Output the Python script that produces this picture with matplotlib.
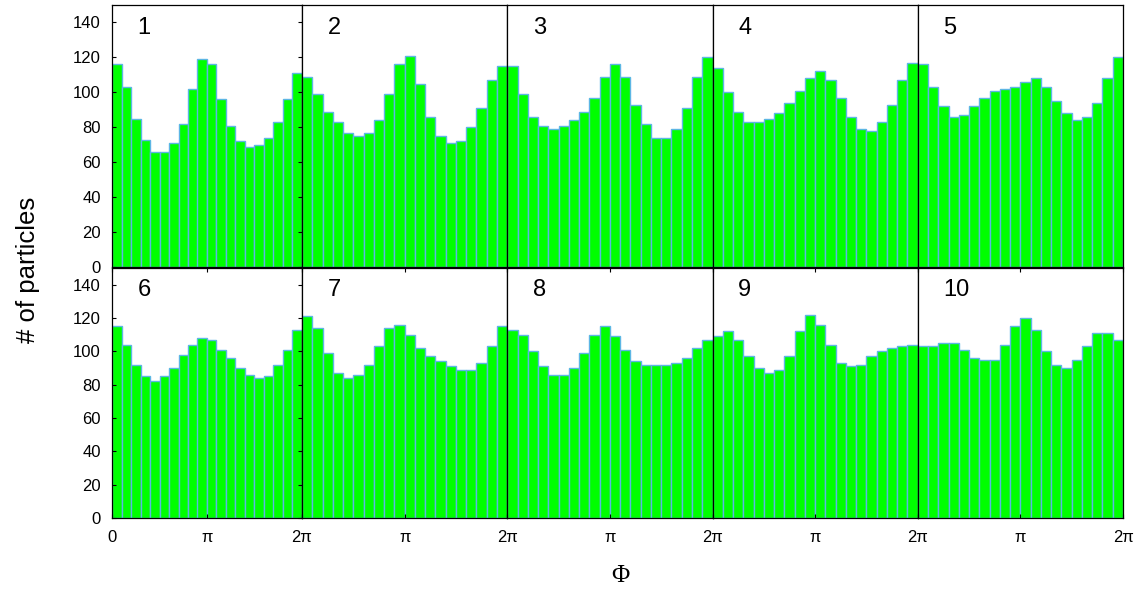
'''Azimuthal particle distributions for ten event classes, drawn as a 2x5 panel grid.'''

import numpy as np
import matplotlib
matplotlib.use('Agg')
import matplotlib.pyplot as plt

# Particle counts per azimuthal bin (20 bins over 0..2pi), one list per panel
counts_1 = [116, 103, 85, 73, 66, 66, 71, 82, 102, 119, 116, 96, 81, 72, 69, 70, 74, 83, 96, 111]
counts_2 = [109, 99, 89, 83, 77, 75, 77, 84, 99, 116, 121, 105, 86, 75, 71, 72, 80, 91, 107, 115]
counts_3 = [115, 99, 86, 81, 79, 81, 84, 89, 97, 109, 116, 109, 93, 82, 74, 74, 79, 91, 109, 120]
counts_4 = [114, 100, 89, 83, 83, 85, 88, 94, 101, 108, 112, 107, 97, 86, 79, 78, 83, 93, 107, 117]
counts_5 = [116, 103, 92, 86, 87, 92, 97, 101, 102, 103, 106, 108, 103, 95, 88, 84, 86, 94, 108, 120]
counts_6 = [115, 104, 92, 85, 82, 85, 90, 98, 104, 108, 107, 101, 96, 90, 86, 84, 85, 92, 101, 113]
counts_7 = [121, 114, 99, 87, 84, 86, 92, 103, 114, 116, 110, 102, 97, 94, 91, 89, 89, 93, 103, 115]
counts_8 = [113, 110, 100, 91, 86, 86, 90, 99, 110, 115, 109, 101, 94, 92, 92, 92, 93, 96, 102, 107]
counts_9 = [109, 112, 107, 97, 90, 87, 89, 97, 112, 122, 116, 104, 93, 91, 92, 97, 100, 102, 103, 104]
counts_10 = [103, 103, 105, 105, 101, 96, 95, 95, 104, 115, 120, 113, 100, 92, 90, 95, 103, 111, 111, 107]

panel_counts = [counts_1, counts_2, counts_3, counts_4, counts_5,
                counts_6, counts_7, counts_8, counts_9, counts_10]
panel_names = ['1', '2', '3', '4', '5', '6', '7', '8', '9', '10']

y_ticks = [0, 20, 40, 60, 80, 100, 120, 140]
x_ticks = [0, np.pi, 2 * np.pi]

plt.rcParams['font.family'] = ['Liberation Sans', 'DejaVu Sans']

W, H = 1137, 592
fig = plt.figure(figsize=(W / 100, H / 100), dpi=100)

n_bins = 20
edges = np.linspace(0, 2 * np.pi, n_bins + 1)
bin_w = edges[1] - edges[0]

# panel frames in pixels: first column is narrower
col_left = [112, 302, 507.25, 712.5, 917.75]
col_right = [302, 507.25, 712.5, 917.75, 1123]
row_top = [4.8, 268]
row_bottom = [267.3, 518]

for i, values in enumerate(panel_counts):
    row, col = divmod(i, 5)
    left = col_left[col] / W
    width = (col_right[col] - col_left[col]) / W
    bottom = (H - row_bottom[row]) / H
    height = (row_bottom[row] - row_top[row]) / H
    ax = fig.add_axes([left, bottom, width, height])

    ax.bar(edges[:-1], values, width=bin_w, align='edge',
           color='#00ff00', edgecolor='#5cb6e4', linewidth=1.0)

    ax.set_xlim(0, 2 * np.pi)
    ax.set_ylim(0, 150)
    for spine in ax.spines.values():
        spine.set_linewidth(0.9)
        spine.set_color('black')
        spine.set_zorder(5)

    ax.text(0.135 if col == 0 else 0.125, 0.955, panel_names[i],
            transform=ax.transAxes, ha='left', va='top', fontsize=17)

    # y axis only on the first column
    if col == 0:
        ax.set_yticks(y_ticks)
        ax.tick_params(axis='y', direction='in', length=3, width=0.8,
                       left=True, right=True, labelsize=12, pad=8)
    else:
        ax.set_yticks([])

    # x axis only on the bottom row
    if row == 1:
        ax.set_xticks(x_ticks)
        labels = ['0', 'π', '2π'] if col == 0 else ['', 'π', '2π']
        ax.set_xticklabels(labels)
        ax.tick_params(axis='x', direction='in', length=3, width=0.8,
                       bottom=True, top=True, labelsize=12, pad=9)
    else:
        ax.set_xticks([])

fig.text(28 / W, 1 - 270 / H, '# of particles', rotation=90,
         ha='center', va='center', fontsize=18.5)
fig.text(620 / W, 1 - 576 / H, 'Φ', ha='center', va='center',
         fontsize=18, family=['Liberation Serif', 'DejaVu Serif'])

fig.savefig('out.png', dpi=100)
